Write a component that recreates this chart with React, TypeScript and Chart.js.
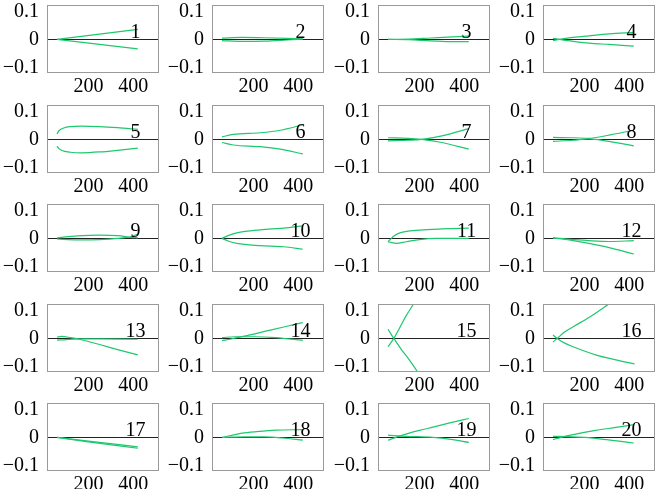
import React, { useEffect, useRef } from "react";
import { Chart, registerables } from "chart.js";

Chart.register(...registerables);

type P = [number, number][];

const panelLabels = ["1","2","3","4","5","6","7","8","9","10","11","12","13","14","15","16","17","18","19","20"];
const xTicks = [200, 400];
const yTicks = [-0.1, 0, 0.1];
const labelPos: [number, number] = [410, 0.025];

const c1a: P = [[60,0],[420,0.036]];
const c1b: P = [[60,0],[420,-0.034]];
const c2a: P = [[60,0.005],[150,0.007],[250,0.006],[350,0.004],[420,0.002]];
const c2b: P = [[60,-0.004],[150,-0.007],[250,-0.006],[350,-0.002],[420,0.001]];
const c3a: P = [[60,0],[150,0.001],[250,0.005],[350,0.009],[420,0.012]];
const c3b: P = [[60,0],[150,-0.001],[250,-0.005],[350,-0.008],[420,-0.008]];
const c4a: P = [[60,-0.004],[90,0],[150,0.007],[220,0.013],[310,0.02],[420,0.025]];
const c4b: P = [[60,0.004],[90,0],[150,-0.007],[220,-0.013],[310,-0.018],[420,-0.024]];
const c5a: P = [[60,0.02],[70,0.032],[90,0.041],[120,0.046],[170,0.048],[250,0.046],[330,0.042],[420,0.036]];
const c5b: P = [[60,-0.024],[70,-0.034],[90,-0.042],[120,-0.046],[170,-0.048],[250,-0.045],[330,-0.039],[420,-0.031]];
const c6a: P = [[60,0.009],[110,0.018],[230,0.024],[320,0.033],[420,0.052]];
const c6b: P = [[60,-0.011],[110,-0.02],[230,-0.026],[320,-0.035],[420,-0.052]];
const c7a: P = [[60,-0.005],[150,-0.003],[210,0],[300,0.013],[420,0.039]];
const c7b: P = [[60,0.006],[150,0.004],[210,0],[300,-0.011],[420,-0.035]];
const c8a: P = [[60,0.007],[150,0.006],[220,0.004],[300,0.014],[420,0.033]];
const c8b: P = [[60,-0.007],[150,-0.003],[220,0.002],[300,-0.006],[420,-0.023]];
const c9a: P = [[60,0.002],[150,0.009],[250,0.012],[330,0.01],[390,0.004],[420,0.002]];
const c9b: P = [[60,-0.002],[150,-0.005],[250,-0.004],[330,0],[390,0.006],[420,0.015]];
const c10a: P = [[60,0],[90,0.011],[126,0.02],[230,0.031],[335,0.037],[420,0.045]];
const c10b: P = [[60,0],[90,-0.01],[126,-0.018],[230,-0.026],[335,-0.03],[420,-0.039]];
const c11a: P = [[60,-0.012],[70,-0.004],[85,0.008],[113,0.02],[150,0.026],[200,0.03],[300,0.034],[420,0.037]];
const c11b: P = [[60,-0.012],[98,-0.018],[142,-0.012],[200,-0.004],[275,0],[420,0]];
const c12a: P = [[60,0.002],[150,-0.004],[220,-0.008],[310,-0.011],[420,-0.008]];
const c12b: P = [[60,0.002],[150,-0.008],[220,-0.018],[310,-0.033],[420,-0.056]];
const c13a: P = [[60,0.005],[80,0.007],[120,0.003],[160,-0.003],[250,-0.022],[330,-0.04],[420,-0.059]];
const c13b: P = [[60,-0.006],[100,-0.004],[160,-0.002],[250,-0.002],[420,-0.003]];
const c14a: P = [[60,-0.008],[100,-0.002],[160,0.008],[250,0.025],[340,0.042],[420,0.057]];
const c14b: P = [[60,0.003],[120,0.006],[200,0.006],[300,0.003],[420,-0.007]];
const c15a: P = [[60,0.033],[86,0],[120,-0.04],[150,-0.072],[190,-0.118],[200,-0.13]];
const c15b: P = [[60,-0.03],[86,0],[110,0.035],[140,0.08],[175,0.125]];
const c16a: P = [[60,-0.013],[79,0],[110,0.022],[150,0.042],[224,0.077],[290,0.113],[320,0.13]];
const c16b: P = [[60,0.012],[79,0],[110,-0.016],[150,-0.03],[253,-0.06],[340,-0.077],[424,-0.092]];
const c17a: P = [[60,0],[200,-0.016],[420,-0.039]];
const c17b: P = [[60,0],[200,-0.013],[420,-0.034]];
const c18a: P = [[60,0],[100,0.007],[160,0.016],[230,0.022],[300,0.026],[420,0.028]];
const c18b: P = [[60,0],[160,0.002],[250,0.002],[330,-0.002],[420,-0.01]];
const c19a: P = [[60,-0.01],[100,0.002],[140,0.012],[200,0.025],[260,0.037],[340,0.053],[420,0.068]];
const c19b: P = [[60,0.008],[140,0.004],[260,0],[340,-0.007],[420,-0.018]];
const c20a: P = [[60,-0.008],[100,0.001],[150,0.01],[250,0.025],[340,0.036],[420,0.046]];
const c20b: P = [[60,0.004],[120,0.003],[200,0],[300,-0.008],[420,-0.02]];

const curvesA: P[] = [c1a,c2a,c3a,c4a,c5a,c6a,c7a,c8a,c9a,c10a,c11a,c12a,c13a,c14a,c15a,c16a,c17a,c18a,c19a,c20a];
const curvesB: P[] = [c1b,c2b,c3b,c4b,c5b,c6b,c7b,c8b,c9b,c10b,c11b,c12b,c13b,c14b,c15b,c16b,c17b,c18b,c19b,c20b];

const GREEN = "rgb(30,200,110)";
const FONT = "'Liberation Serif', 'Times New Roman', serif";
const colLefts = [48, 213, 379, 544];
const rowTops = [6, 106, 205, 305, 404];
const CW = 160;
const CH = 99;

function fmtY(v: number): string {
  if (v === 0) return "0";
  return v < 0 ? "\u2212" + String(Math.abs(v)) : String(v);
}

function Panel({ idx }: { idx: number }) {
  const ref = useRef<HTMLCanvasElement | null>(null);
  useEffect(() => {
    const canvas = ref.current;
    if (!canvas) return;
    const label = panelLabels[idx];
    const framePlugin = {
      id: "frame" + idx,
      afterDatasetsDraw(chart: any) {
        const { ctx, chartArea } = chart;
        const xs = chart.scales.x;
        const ys = chart.scales.y;
        ctx.save();
        ctx.fillStyle = "#000";
        ctx.font = "20px " + FONT;
        ctx.textAlign = "center";
        ctx.textBaseline = "middle";
        ctx.fillText(label, xs.getPixelForValue(labelPos[0]), ys.getPixelForValue(labelPos[1]));
        ctx.strokeStyle = "#9a9a9a";
        ctx.lineWidth = 1;
        ctx.strokeRect(chartArea.left - 0.5, chartArea.top - 0.5, chartArea.right - chartArea.left + 1, chartArea.bottom - chartArea.top + 1);
        ctx.restore();
      },
    };
    const mk = (pts: P) => ({
      data: pts.map(([x, y]) => ({ x, y })),
      borderColor: GREEN,
      borderWidth: 1.2,
      pointRadius: 0,
      fill: false,
      cubicInterpolationMode: "monotone" as const,
    });
    const chart = new Chart(canvas, {
      type: "line",
      data: { datasets: [mk(curvesA[idx]), mk(curvesB[idx])] },
      options: {
        animation: false,
        responsive: false,
        devicePixelRatio: 1,
        layout: { padding: { top: 6, right: 2, left: 0, bottom: 0 } },
        plugins: { legend: { display: false }, tooltip: { enabled: false } },
        scales: {
          x: {
            type: "linear",
            min: 20,
            max: 510,
            afterBuildTicks: (s: any) => { s.ticks = xTicks.map((v) => ({ value: v })); },
            afterFit: (s: any) => { s.height = 27; s.paddingLeft = 0; s.paddingRight = 0; },
            grid: { display: false, drawTicks: false },
            border: { display: false },
            ticks: { font: { size: 20, family: FONT }, color: "#000", padding: 3, maxRotation: 0, autoSkip: false, callback: (v: any) => String(v) },
          },
          y: {
            type: "linear",
            min: -0.117,
            max: 0.12,
            afterBuildTicks: (s: any) => { s.ticks = yTicks.map((v) => ({ value: v })); },
            afterFit: (s: any) => { s.width = 48; s.paddingTop = 0; s.paddingBottom = 0; },
            grid: {
              drawTicks: false,
              lineWidth: 1,
              color: (c: any) => (c.tick && c.tick.value === 0 ? "#222" : "rgba(0,0,0,0)"),
            },
            border: { display: false },
            ticks: { font: { size: 20, family: FONT }, color: "#000", padding: 9, autoSkip: false, callback: (v: any) => fmtY(Number(v)) },
          },
        },
      },
      plugins: [framePlugin],
    });
    return () => chart.destroy();
  }, [idx]);
  const col = idx % 4;
  const row = Math.floor(idx / 4);
  return (
    <canvas
      ref={ref}
      width={CW}
      height={CH}
      style={{ position: "absolute", left: colLefts[col] - 48, top: rowTops[row] - 6, width: CW, height: CH }}
    />
  );
}

export default function App() {
  return (
    <div style={{ position: "absolute", left: 0, top: 0, width: 655, height: 489, overflow: "hidden", background: "#fff" }}>
      {panelLabels.map((_, i) => (
        <Panel key={i} idx={i} />
      ))}
    </div>
  );
}
